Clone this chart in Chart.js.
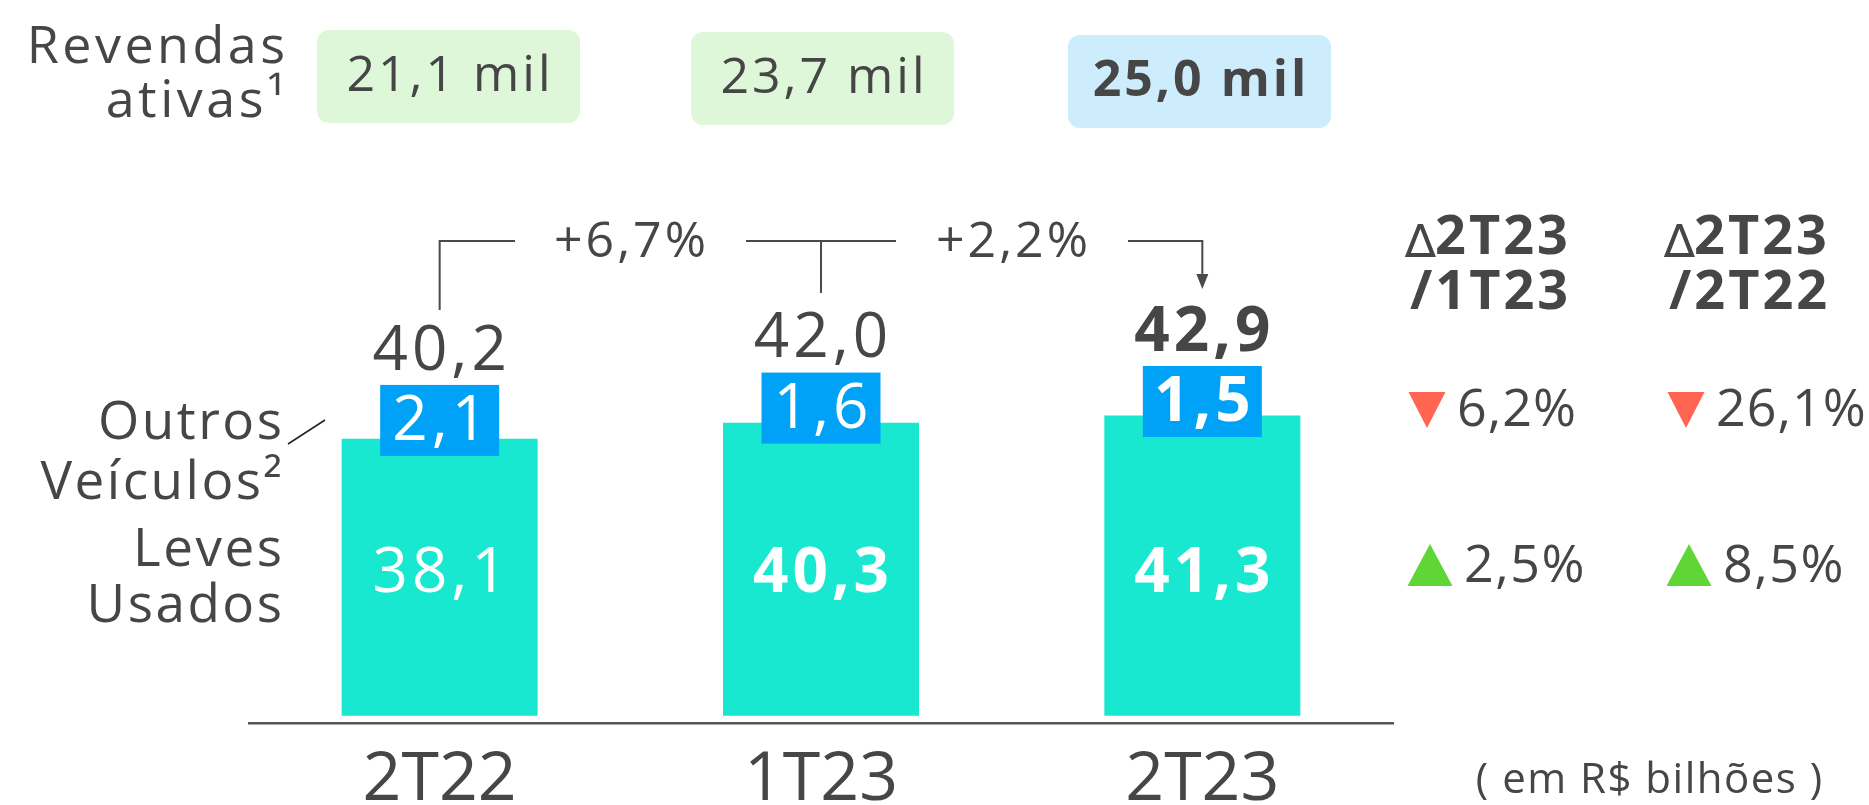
<!DOCTYPE html>
<html>
<head>
<meta charset="utf-8">
<script src="https://cdn.jsdelivr.net/npm/chart.js@4.4.1/dist/chart.umd.min.js"></script>
<style>
  html, body { margin: 0; padding: 0; background: #ffffff; }
  #wrap { width: 1869px; height: 805px; position: relative; }
</style>
</head>
<body>
<div id="wrap"><canvas id="c" width="1869" height="805"></canvas></div>
<script>
// ---- data ----
const categories = ['2T22', '1T23', '2T23'];
const levesUsados = [38.1, 40.3, 41.3];
const outrosVeiculos = [2.1, 1.6, 1.5];
const levesLabels = ['38,1', '40,3', '41,3'];
const outrosLabels = ['2,1', '1,6', '1,5'];
const totalLabels = ['40,2', '42,0', '42,9'];
const revendasLabels = ['21,1 mil', '23,7 mil', '25,0 mil'];
const growthLabels = ['+6,7%', '+2,2%'];
const deltaHeaders = [['2T23', '/1T23'], ['2T23', '/2T22']];
const deltaOutros = ['6,2%', '26,1%'];
const deltaLeves = ['2,5%', '8,5%'];
const seriesNames = ['Leves\nUsados', 'Outros\nVeículos²'];
const revendasTitle = ['Revendas', 'ativas¹'];
const unitNote = '( em R$ bilhões )';

// ---- style ----
const FONT = '"Open Sans", "Noto Sans", sans-serif';
const TXT = '#464646';
const TEAL = '#19e8d0';
const BLUE = '#00a2f7';
const RED = '#ff6550';
const GREEN = '#5fd635';
const HIGHLIGHT = 2; // index of current quarter (bold)

function txt(ctx, s, x, y, size, opts = {}) {
  ctx.save();
  ctx.font = (opts.weight || 'normal') + ' ' + size + 'px ' + FONT;
  ctx.fillStyle = opts.color || TXT;
  ctx.textAlign = opts.align || 'center';
  ctx.textBaseline = 'middle';
  if (opts.ls !== undefined) ctx.letterSpacing = opts.ls + 'px';
  let dx = 0;
  // letterSpacing adds trailing space; compensate for centered / right aligned text
  if (opts.ls && (ctx.textAlign === 'center')) dx = opts.ls / 2;
  if (opts.ls && (ctx.textAlign === 'right')) dx = opts.ls;
  ctx.fillText(s, x + dx, y);
  ctx.restore();
}
function rrect(ctx, x, y, w, h, r, color) {
  ctx.save();
  ctx.fillStyle = color;
  ctx.beginPath();
  ctx.roundRect(x, y, w, h, r);
  ctx.fill();
  ctx.restore();
}
function tri(ctx, cx, cy, w, h, up, color) {
  ctx.save();
  ctx.fillStyle = color;
  ctx.beginPath();
  if (up) {
    ctx.moveTo(cx, cy - h / 2); ctx.lineTo(cx + w / 2, cy + h / 2); ctx.lineTo(cx - w / 2, cy + h / 2);
  } else {
    ctx.moveTo(cx - w / 2, cy - h / 2); ctx.lineTo(cx + w / 2, cy - h / 2); ctx.lineTo(cx, cy + h / 2);
  }
  ctx.closePath(); ctx.fill();
  ctx.restore();
}

const annot = {
  id: 'annot',
  afterDatasetsDraw(chart) {
    const ctx = chart.ctx;
    const y = chart.scales.y;
    const leves = chart.getDatasetMeta(0).data;
    const outros = chart.getDatasetMeta(1).data;
    categories.forEach((c, i) => {
      const bold = i === HIGHLIGHT ? 'bold' : 'normal';
      const boldInner = i === 0 ? 'normal' : 'bold';
      const cx = leves[i].x;
      // value inside teal bar
      txt(ctx, levesLabels[i], cx, y.getPixelForValue(19.4), 62, { color: '#ffffff', weight: boldInner, ls: 4 });
      // blue box for outros veiculos, centred on the top of the stack
      const top = outros[i].y - 3;
      const bw = 119, bh = 71;
      ctx.save(); ctx.fillStyle = BLUE; ctx.fillRect(cx - bw / 2, top - bh / 2, bw, bh); ctx.restore();
      txt(ctx, outrosLabels[i], cx, top + 2, 62, { color: '#ffffff', weight: bold, ls: 4 });
      // total
      txt(ctx, totalLabels[i], cx, top - bh / 2 - 33, 62, { weight: bold, ls: 4 });
    });
  },
  afterDraw(chart) {
    const ctx = chart.ctx;
    const leves = chart.getDatasetMeta(0).data;
    const xs = leves.map(e => e.x);

    // Revendas ativas header
    txt(ctx, revendasTitle[0], 285, 48, 52, { align: 'right', ls: 3.5 });
    txt(ctx, revendasTitle[1], 285, 102, 52, { align: 'right', ls: 3.5 });
    const boxX = [317, 691, 1068], boxY = [30, 32, 35];
    revendasLabels.forEach((s, i) => {
      const hl = i === HIGHLIGHT;
      rrect(ctx, boxX[i], boxY[i], 263, 93, 12, hl ? '#cdedfd' : '#dff7d9');
      txt(ctx, s, boxX[i] + 131.5, boxY[i] + 47, 50, { weight: hl ? 'bold' : 'normal', ls: 3 });
    });

    // growth brackets
    const ly = 241;
    ctx.save();
    ctx.strokeStyle = '#4a4a4a'; ctx.lineWidth = 2;
    ctx.beginPath();
    ctx.moveTo(xs[0], 310); ctx.lineTo(xs[0], ly); ctx.lineTo(515, ly);
    ctx.moveTo(746, ly); ctx.lineTo(896, ly);
    ctx.moveTo(xs[1], ly); ctx.lineTo(xs[1], 293);
    ctx.moveTo(1128, ly); ctx.lineTo(xs[2], ly); ctx.lineTo(xs[2], 276);
    ctx.stroke();
    ctx.fillStyle = '#4a4a4a';
    ctx.beginPath();
    ctx.moveTo(xs[2] - 6, 274); ctx.lineTo(xs[2] + 6, 274); ctx.lineTo(xs[2], 289); ctx.closePath(); ctx.fill();
    ctx.restore();
    txt(ctx, growthLabels[0], 630, 243, 50, { ls: 3 });
    txt(ctx, growthLabels[1], 1012, 243, 50, { ls: 3 });

    // left series labels
    const [lv1, lv2] = seriesNames[0].split('\n');
    const [ov1, ov2] = seriesNames[1].split('\n');
    txt(ctx, ov1, 282, 424, 53, { align: 'right', ls: 2.5 });
    txt(ctx, ov2, 282, 484, 53, { align: 'right', ls: 2.5 });
    txt(ctx, lv1, 282, 551, 53, { align: 'right', ls: 2.5 });
    txt(ctx, lv2, 282, 607, 53, { align: 'right', ls: 2.5 });
    ctx.save();
    ctx.strokeStyle = '#222'; ctx.lineWidth = 1.5;
    ctx.beginPath(); ctx.moveTo(288, 444); ctx.lineTo(325, 420); ctx.stroke();
    ctx.restore();

    // right delta table
    const colX = [1407, 1666];
    colX.forEach((x, k) => {
      ctx.save();
      ctx.font = 'normal 46px "DejaVu Sans", sans-serif';
      ctx.fillStyle = TXT; ctx.textAlign = 'left'; ctx.textBaseline = 'alphabetic';
      ctx.fillText('∆', x - 2, 257);
      ctx.restore();
      txt(ctx, deltaHeaders[k][0], x + 28, 239, 54, { align: 'left', weight: 'bold', ls: 3 });
      txt(ctx, deltaHeaders[k][1], x + 3, 294, 54, { align: 'left', weight: 'bold', ls: 3 });
      tri(ctx, x + 20, 410, 37, 36, false, RED);
      txt(ctx, deltaOutros[k], x + 50, 411, 52, { align: 'left', ls: 1 });
      tri(ctx, x + 23, 565, 45, 42, true, GREEN);
      txt(ctx, deltaLeves[k], x + 57, 567, 52, { align: 'left', ls: 1.5 });
    });

    // units note
    txt(ctx, unitNote, 1649, 781, 42, { ls: 1.5 });
  }
};

new Chart(document.getElementById('c'), {
  type: 'bar',
  data: {
    labels: categories,
    datasets: [
      { label: 'Leves Usados', data: levesUsados, backgroundColor: TEAL, borderWidth: 0,
        barPercentage: 1, categoryPercentage: 0.514, stack: 's' },
      // outros veículos: stacked on top; rendered as the blue label box by the plugin
      { label: 'Outros Veículos', data: outrosVeiculos, backgroundColor: 'rgba(0,0,0,0)', borderWidth: 0,
        barPercentage: 1, categoryPercentage: 0.514, stack: 's' }
    ]
  },
  options: {
    responsive: false,
    animation: false,
    events: [],
    layout: { padding: { left: 249, right: 476, top: 134, bottom: 0 } },
    plugins: { legend: { display: false }, tooltip: { enabled: false } },
    scales: {
      x: {
        stacked: true,
        grid: { display: false, drawTicks: false },
        border: { display: true, color: '#555555', width: 2.5 },
        ticks: { color: TXT, font: { family: FONT, size: 68, lineHeight: 1 }, padding: 24 },
        afterFit(axis) { axis.height = 82; }
      },
      y: {
        stacked: true, display: false, min: -1, max: 80
      }
    }
  },
  plugins: [annot]
});
</script>
</body>
</html>
